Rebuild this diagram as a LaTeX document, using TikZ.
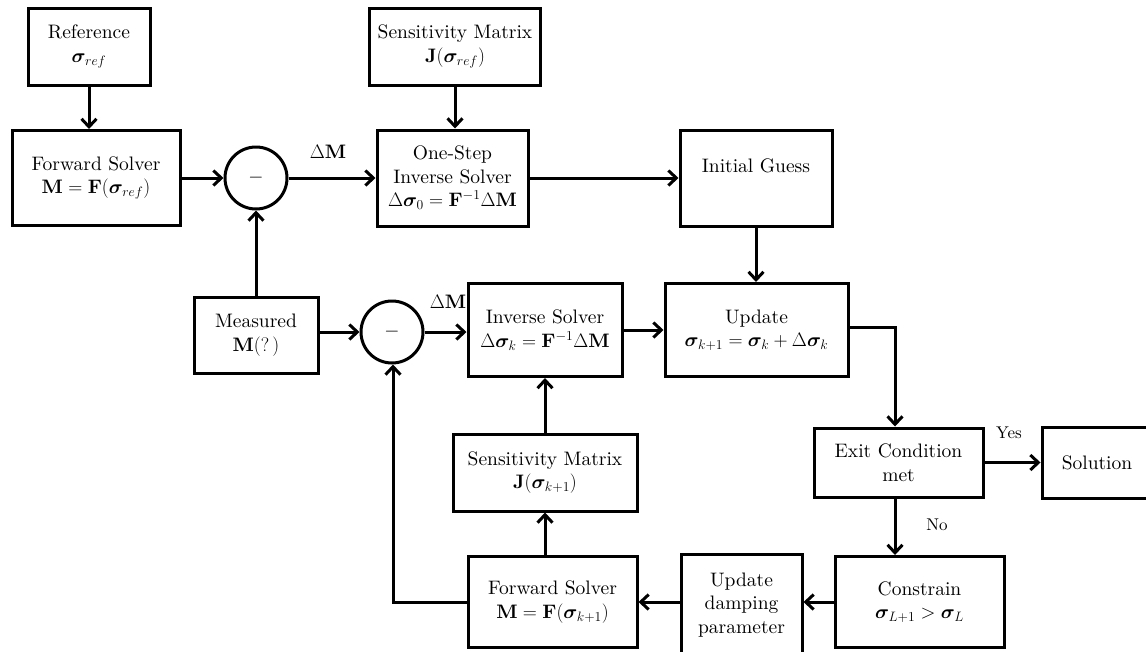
\RequirePackage{fix-cm}
\documentclass[tikz,border=0pt]{standalone}
\usepackage{amsmath}
\usepackage{bm}
\usepackage{fontspec}
\setmainfont{lmroman10-regular.otf}[BoldFont=lmroman10-bold.otf, ItalicFont=lmroman10-italic.otf, BoldItalicFont=lmroman10-bolditalic.otf]
\usetikzlibrary{arrows.meta}
\begin{document}
\begin{tikzpicture}[x=1pt,y=-1pt,
  box/.style={draw, line width=3pt, align=center, inner sep=0pt, font=\fontsize{19.5}{23.5}\selectfont},
  sumc/.style={draw, circle, line width=3pt, minimum size=62pt, inner sep=0pt, font=\fontsize{19.5}{23.5}\selectfont},
  arr/.style={line width=3pt, -{Straight Barb[length=8pt,width=15pt]}},
  lbl/.style={font=\fontsize{19.5}{23.5}\selectfont, inner sep=0pt},
  yn/.style={font=\fontsize{17}{19}\selectfont, inner sep=0pt}]
\useasboundingbox (0,0) rectangle (1146,651);
\clip (0,0) rectangle (1146,651);

% top row
\node[box, minimum width=122pt, minimum height=77pt] (ref) at (89,46.5) {Reference\\$\bm{\sigma}_{ref}$};
\node[box, minimum width=171pt, minimum height=77pt] (sens0) at (455,46.5) {Sensitivity Matrix\\$\mathbf{J}(\bm{\sigma}_{ref})$};
\node[box, minimum width=168pt, minimum height=95pt] (fwd0) at (96,178) {Forward Solver\\$\mathbf{M}=\mathbf{F}(\bm{\sigma}_{ref})$};
\node[sumc] (c1) at (256,178) {$-$};
\node[box, minimum width=151pt, minimum height=96pt] (one) at (452.5,178) {One-Step\\Inverse Solver\\$\Delta\bm{\sigma}_0=\mathbf{F}^{-1}\Delta\mathbf{M}$};
\node[box, minimum width=152pt, minimum height=96pt] (init) at (756,178) {};
\node[lbl] (initT) at (756,166) {Initial Guess};
\node[lbl] (dm1) at (328,152) {$\Delta\mathbf{M}$};

% middle row
\node[box, minimum width=124pt, minimum height=76pt] (meas) at (256,335) {Measured\\$\mathbf{M}(?\,)$};
\node[sumc] (c2) at (392,332) {$-$};
\node[lbl] (dm2) at (448,302) {$\Delta\mathbf{M}$};
\node[box, minimum width=154pt, minimum height=93pt] (inv) at (545,330) {Inverse Solver\\$\Delta\bm{\sigma}_k=\mathbf{F}^{-1}\Delta\mathbf{M}$};
\node[box, minimum width=183pt, minimum height=93pt] (upd) at (756.5,330) {Update\\$\bm{\sigma}_{k+1}=\bm{\sigma}_k+\Delta\bm{\sigma}_k$};

% lower rows
\node[box, minimum width=169pt, minimum height=69pt] (exit) at (898.5,462.5) {Exit Condition\\met};
\node[box, minimum width=110pt, minimum height=71pt] (sol) at (1097,462.5) {Solution};
\node[box, minimum width=184pt, minimum height=77pt] (sens1) at (545,472.5) {Sensitivity Matrix\\$\mathbf{J}(\bm{\sigma}_{k+1})$};
\node[box, minimum width=169pt, minimum height=91pt] (fwd1) at (552.5,602) {Forward Solver\\$\mathbf{M}=\mathbf{F}(\bm{\sigma}_{k+1})$};
\node[box, minimum width=121pt, minimum height=102pt] (damp) at (741.5,605) {Update\\damping\\parameter};
\node[box, minimum width=169pt, minimum height=91pt] (cons) at (919.5,602) {Constrain\\$\bm{\sigma}_{L+1}>\bm{\sigma}_L$};
\node[yn] (yes) at (1009,433) {Yes};
\node[yn] (no) at (937,525) {No};

% connectors
\draw[arr] (ref.south) -- (ref.south |- fwd0.north);
\draw[arr] (sens0.south) -- (sens0.south |- one.north);
\draw[arr] (fwd0.east |- c1.west) -- (c1.west);
\draw[arr] (c1.east) -- (c1.east -| one.west);
\draw[arr] (one.east |- init.west) -- (init.west);
\draw[arr] (init.south) -- (init.south |- upd.north);
\draw[arr] (meas.north -| c1.south) -- (c1.south);
\draw[arr] (meas.east |- c2.west) -- (c2.west);
\draw[arr] (c2.east) -- (c2.east -| inv.west);
\draw[arr] (inv.east) -- (upd.west);
\coordinate (dn) at (895,327);
\draw[arr] (upd.east |- dn) -- (dn) -- (dn |- exit.north);
\draw[arr] (exit.east) -- (exit.east -| sol.west);
\draw[arr] (dn |- exit.south) -- (dn |- cons.north);
\draw[arr] (cons.west) -- (cons.west -| damp.east);
\draw[arr] (damp.west |- fwd1.east) -- (fwd1.east);
\draw[arr] (fwd1.north -| sens1.south) -- (sens1.south);
\draw[arr] (sens1.north) -- (inv.south);
\coordinate (lp) at (393,602);
\draw[arr] (fwd1.west) -- (lp) -- (lp |- c2.south);
\end{tikzpicture}
\end{document}
